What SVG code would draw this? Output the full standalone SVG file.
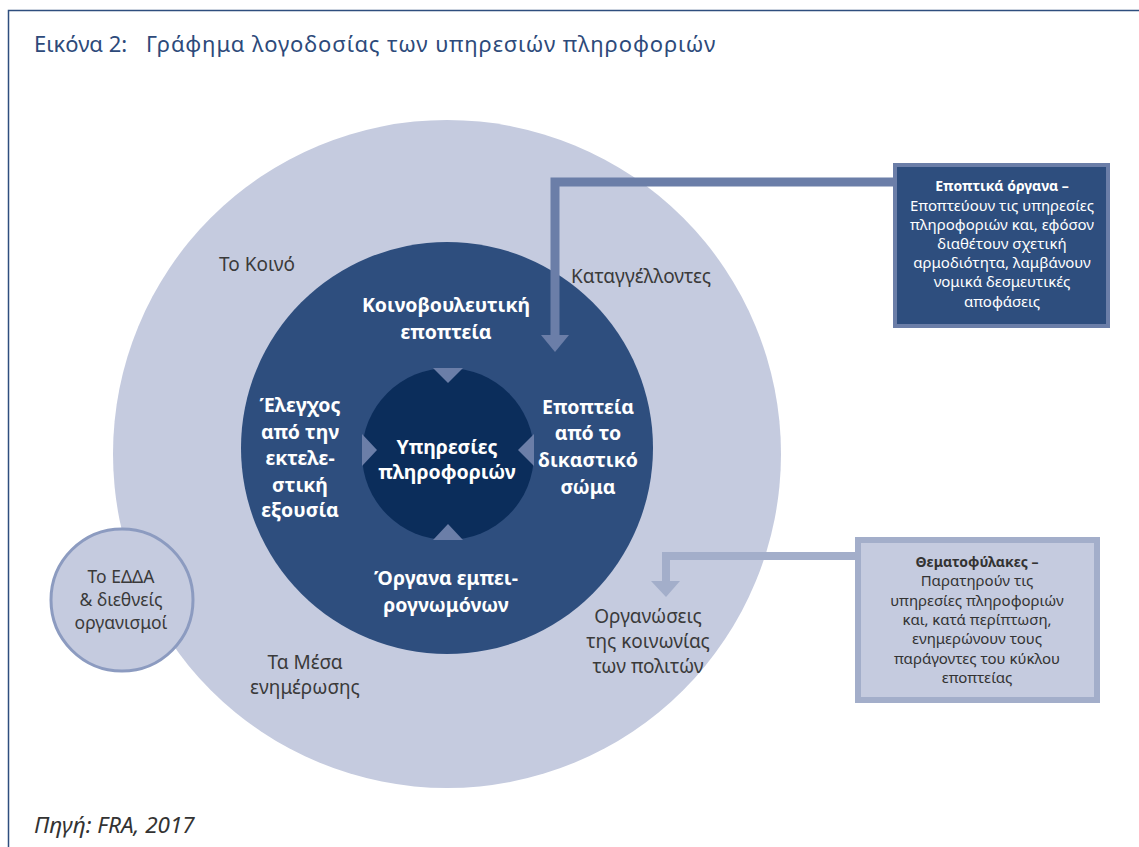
<svg xmlns="http://www.w3.org/2000/svg" width="1139" height="847" viewBox="0 0 1139 847">
<style>
.t{font-family:"Noto Sans","Open Sans",sans-serif;text-anchor:middle}
.g{fill:#3a3a3a;font-size:19px}
.e{fill:#3a3a3a;font-size:17.5px}
.w{fill:#ffffff;font-size:19.5px;font-weight:bold}
.bx{font-size:15px}
.bb{font-size:14px;font-weight:bold}
.tri{fill:#6b7ea8}
</style>
<rect x="0" y="0" width="1139" height="847" fill="#ffffff"/>
<path d="M8.5 847 V10.5 H1139" fill="none" stroke="#2e4e7e" stroke-width="1.5"/>
<g font-family="'Noto Sans','Open Sans',sans-serif" font-size="22" fill="#2d4a7a">
<text x="34" y="52">Εικόνα 2:</text>
<text x="146" y="52" letter-spacing="0.9">Γράφημα λογοδοσίας των υπηρεσιών πληροφοριών</text>
</g>

<g id="outer">
<circle cx="447" cy="454" r="334" fill="#c5cbdf"/>
<text class="t g" x="257" y="271">Το Κοινό</text>
<text class="t g" x="641" y="283">Καταγγέλλοντες</text>
<text class="t g"><tspan x="648" y="623">Οργανώσεις</tspan><tspan x="648" y="648">της κοινωνίας</tspan><tspan x="648" y="673">των πολιτών</tspan></text>
<text class="t g"><tspan x="305" y="669">Τα Μέσα</tspan><tspan x="305" y="694">ενημέρωσης</tspan></text>
</g>

<g id="edda">
<circle cx="122" cy="600" r="71" fill="#c5cbdf" stroke="#8c9bc0" stroke-width="3"/>
<text class="t e"><tspan x="121" y="583">Το ΕΔΔΑ</tspan><tspan x="121" y="606">&amp; διεθνείς</tspan><tspan x="121" y="629">οργανισμοί</tspan></text>
</g>

<g id="middle">
<circle cx="447" cy="448" r="206" fill="#2e4e7e"/>
<text class="t w"><tspan x="446" y="312">Κοινοβουλευτική</tspan><tspan x="446" y="339">εποπτεία</tspan></text>
<text class="t w"><tspan x="300" y="412">Έλεγχος</tspan><tspan x="300" y="439">από την</tspan><tspan x="300" y="465">εκτελε-</tspan><tspan x="300" y="492">στική</tspan><tspan x="300" y="517">εξουσία</tspan></text>
<text class="t w"><tspan x="588" y="414">Εποπτεία</tspan><tspan x="588" y="440">από το</tspan><tspan x="588" y="467">δικαστικό</tspan><tspan x="588" y="494">σώμα</tspan></text>
<text class="t w"><tspan x="446" y="585">Όργανα εμπει-</tspan><tspan x="446" y="612">ρογνωμόνων</tspan></text>
</g>

<g id="inner">
<circle cx="448" cy="454" r="86" fill="#0b2d5b"/>
<polygon class="tri" points="433,368 463,368 448,383"/>
<polygon class="tri" points="433,540 463,540 448,524"/>
<polygon class="tri" points="362,434 362,466 377,450"/>
<polygon class="tri" points="534,434 534,466 518,450"/>
<text class="t w"><tspan x="447" y="454">Υπηρεσίες</tspan><tspan x="447" y="479">πληροφοριών</tspan></text>
</g>

<g id="connectors">
<path d="M893 182 H555 V336" fill="none" stroke="#6b7ea8" stroke-width="9"/>
<polygon points="541,335 569,335 555,352" fill="#6b7ea8"/>
<path d="M855 556 H666 V582" fill="none" stroke="#a3aeca" stroke-width="8"/>
<polygon points="651,581 680,581 666,597" fill="#a3aeca"/>
</g>

<g id="box-supervisory">
<rect x="895" y="165" width="213" height="161" fill="#2e4e7e" stroke="#6b7ea8" stroke-width="4"/>
<text class="t bx" fill="#ffffff"><tspan x="1002" y="191" class="bb">Εποπτικά όργανα –</tspan><tspan x="1002" y="211">Εποπτεύουν τις υπηρεσίες</tspan><tspan x="1002" y="230">πληροφοριών και, εφόσον</tspan><tspan x="1002" y="249">διαθέτουν σχετική</tspan><tspan x="1002" y="268">αρμοδιότητα, λαμβάνουν</tspan><tspan x="1002" y="287">νομικά δεσμευτικές</tspan><tspan x="1002" y="307">αποφάσεις</tspan></text>
</g>

<g id="box-watchdogs">
<rect x="858" y="540" width="239" height="160" fill="#c5cbdf" stroke="#a3aeca" stroke-width="6"/>
<text class="t bx" fill="#333333"><tspan x="977" y="567" class="bb">Θεματοφύλακες –</tspan><tspan x="977" y="586">Παρατηρούν τις</tspan><tspan x="977" y="606">υπηρεσίες πληροφοριών</tspan><tspan x="977" y="625">και, κατά περίπτωση,</tspan><tspan x="977" y="644">ενημερώνουν τους</tspan><tspan x="977" y="664">παράγοντες του κύκλου</tspan><tspan x="977" y="683">εποπτείας</tspan></text>
</g>

<text x="34" y="833" font-family="'Noto Sans','Open Sans',sans-serif" font-size="22.5" font-style="italic" fill="#333333">Πηγή: FRA, 2017</text>
</svg>
